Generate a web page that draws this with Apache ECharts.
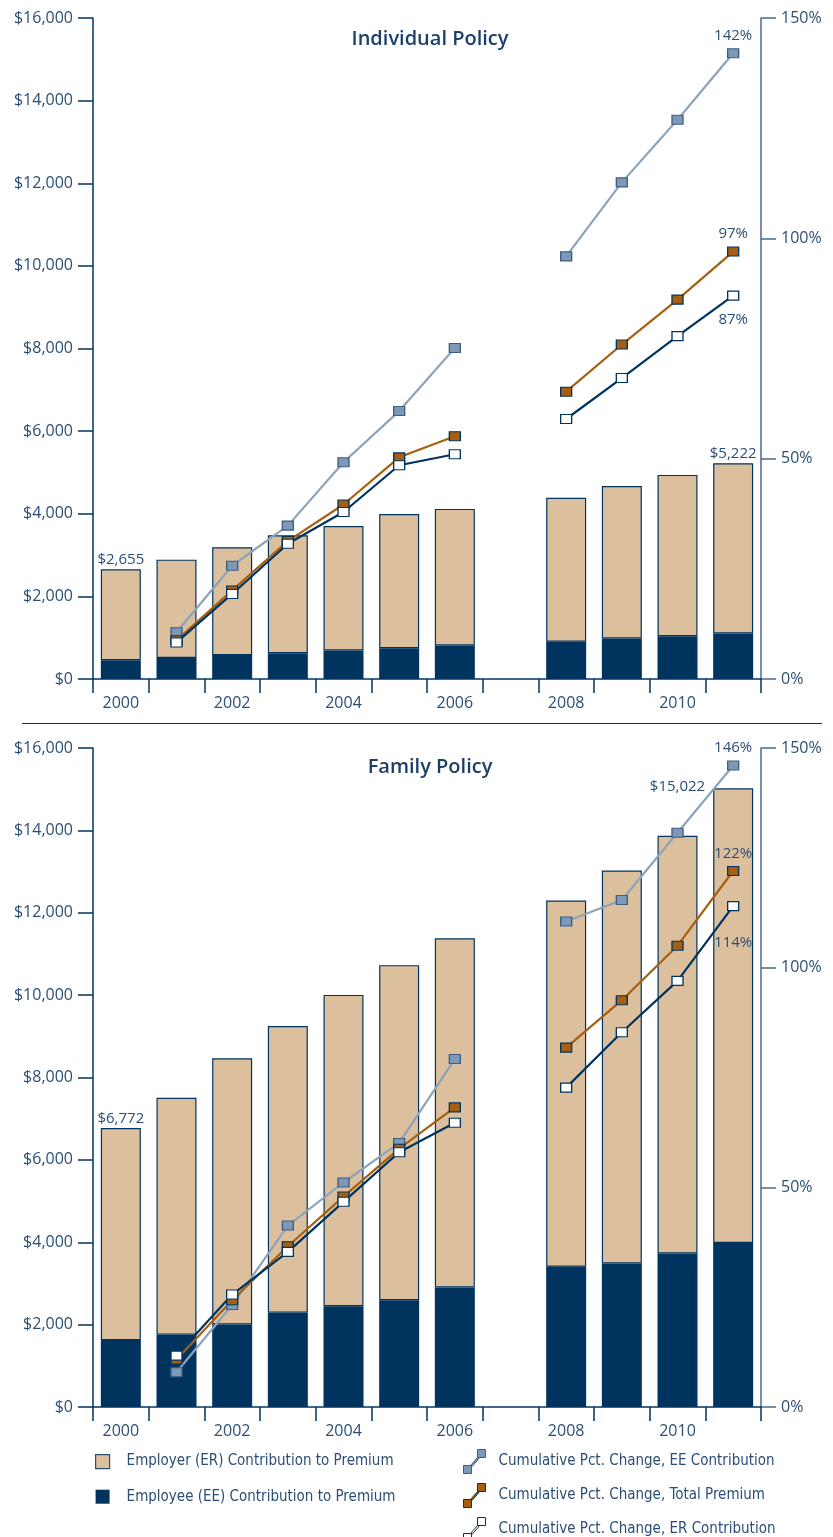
<!DOCTYPE html>
<html lang="en">
<head>
<meta charset="UTF-8">
<title>Individual and Family Policy Premiums</title>
<style>
  html, body { margin: 0; padding: 0; background: #fff; }
  #main { width: 833px; height: 1537px; }
</style>
</head>
<body>
<div id="main"></div>
<script src="https://cdn.jsdelivr.net/npm/echarts@6/dist/echarts.min.js"></script>
<script>
// years (2007 kept as an empty slot)
var years = ['2000','2001','2002','2003','2004','2005','2006','2007','2008','2009','2010','2011'];

// Individual policy, $ per year
var indTotal = [2655, 2889, 3189, 3481, 3705, 3991, 4118, null, 4386, 4669, 4940, 5222];
var indEE    = [455, 511, 578, 622, 689, 744, 812, null, 901, 979, 1034, 1101];
var indER    = [2200, 2378, 2611, 2859, 3016, 3247, 3306, null, 3485, 3690, 3906, 4121];
// Individual policy, cumulative % change
var indEEPct  = [null, 10.6, 25.7, 34.8, 49.2, 60.8, 75.1, null, 95.9, 112.7, 126.9, 142];
var indTotPct = [null, 8.8, 20.1, 31.3, 39.6, 50.3, 55.1, null, 65.2, 75.9, 86.1, 97];
var indERPct  = [null, 8.3, 19.3, 30.7, 37.9, 48.5, 51.0, null, 59.0, 68.3, 77.8, 87];

// Family policy, $ per year
var famTotal = [6772, 7509, 8469, 9249, 10006, 10728, 11381, null, 12298, 13027, 13871, 15022];
var famEE    = [1624, 1758, 2003, 2292, 2448, 2592, 2904, null, 3405, 3483, 3727, 3983];
var famER    = [5148, 5751, 6466, 6957, 7558, 8136, 8477, null, 8893, 9544, 10144, 11039];
// Family policy, cumulative % change
var famEEPct  = [null, 7.9, 23.2, 41.3, 51.1, 60.1, 79.2, null, 110.5, 115.4, 130.7, 146];
var famTotPct = [null, 10.8, 24.3, 36.6, 47.9, 58.8, 68.2, null, 81.8, 92.6, 105.0, 122];
var famERPct  = [null, 11.7, 25.6, 35.3, 46.7, 58.0, 64.7, null, 72.7, 85.3, 97.0, 114];

var NAVY = '#00345f';
var TAN = '#dcc09e';
var EEFILL = '#7d99b7';
var EELINE = '#8da3ba';
var BROWN = '#a65f10';
var TXT = '#2c4e76';
var NUMFONT = 'Open Sans';
var LEGFONT = '"DejaVu Sans Condensed", "Liberation Sans Narrow", Roboto, sans-serif';

var chart = echarts.init(document.getElementById('main'));

function fmtMoney(v) {
  return '$' + v.toLocaleString('en-US');
}

// ER bars, with total label on chosen years
function erData(er, total, labels) {
  return er.map(function (v, i) {
    if (labels[i] === undefined) return v;
    return {
      value: v,
      label: Object.assign({
        show: true,
        formatter: fmtMoney(total[i]),
        color: TXT, fontFamily: NUMFONT, fontSize: 15
      }, labels[i])
    };
  });
}

// line data with a label on the last point only
function pctData(arr, pos, dist) {
  return arr.map(function (v, i) {
    if (i !== arr.length - 1) return v;
    return {
      value: v,
      label: { show: true, position: pos, distance: dist, formatter: Math.round(v) + '%',
               color: TXT, fontFamily: NUMFONT, fontSize: 15 }
    };
  });
}

function xAxis(gi) {
  return {
    type: 'category', gridIndex: gi, data: years, boundaryGap: true,
    axisLine: { lineStyle: { color: NAVY, width: 1.5 } },
    axisTick: { show: true, interval: 0, length: 14, lineStyle: { color: NAVY, width: 1.5 } },
    axisLabel: { interval: 1, margin: 16, color: TXT, fontFamily: NUMFONT, fontSize: 16 }
  };
}
function yLeft(gi) {
  return {
    type: 'value', gridIndex: gi, position: 'left', min: 0, max: 16000, interval: 2000,
    splitLine: { show: false },
    axisLine: { show: true, lineStyle: { color: NAVY, width: 1.5 } },
    axisTick: { show: true, length: 15, lineStyle: { color: NAVY, width: 1.5 } },
    axisLabel: { margin: 20, color: TXT, fontFamily: NUMFONT, fontSize: 16,
                 formatter: function (v) { return fmtMoney(v); } }
  };
}
function yRight(gi) {
  return {
    type: 'value', gridIndex: gi, position: 'right', min: 0, max: 150, interval: 50,
    splitLine: { show: false },
    axisLine: { show: true, lineStyle: { color: '#4a6a8e', width: 1.5 } },
    axisTick: { show: true, length: 15, lineStyle: { color: '#4a6a8e', width: 1.5 } },
    axisLabel: { margin: 20, color: TXT, fontFamily: NUMFONT, fontSize: 16, formatter: '{value}%' }
  };
}

function barSeries(gi, ee, er, total, labels) {
  return [
    { name: 'Employee (EE) Contribution to Premium', type: 'bar', stack: 's' + gi,
      xAxisIndex: gi, yAxisIndex: gi * 2, barWidth: 40, data: ee,
      itemStyle: { color: NAVY } },
    { name: 'Employer (ER) Contribution to Premium', type: 'bar', stack: 's' + gi,
      xAxisIndex: gi, yAxisIndex: gi * 2, barWidth: 40, data: erData(er, total, labels),
      itemStyle: { color: TAN, borderColor: NAVY, borderWidth: 1.2 } }
  ];
}

function lineSeries(gi, eeP, totP, erP, erDist) {
  var base = { type: 'line', xAxisIndex: gi, yAxisIndex: gi * 2 + 1, symbol: 'rect',
               symbolSize: [11, 9], connectNulls: false, z: 5 };
  return [
    Object.assign({}, base, { name: 'Cumulative Pct. Change, EE Contribution', data: pctData(eeP, 'top', 5),
      lineStyle: { color: EELINE, width: 2.2 },
      itemStyle: { color: EEFILL, borderColor: '#3d5d82', borderWidth: 1.2 } }),
    Object.assign({}, base, { name: 'Cumulative Pct. Change, Total Premium', data: pctData(totP, 'top', 5),
      lineStyle: { color: BROWN, width: 2.2 },
      itemStyle: { color: BROWN, borderColor: NAVY, borderWidth: 1.2 } }),
    Object.assign({}, base, { name: 'Cumulative Pct. Change, ER Contribution', data: pctData(erP, 'bottom', erDist),
      lineStyle: { color: NAVY, width: 2.2 },
      itemStyle: { color: '#ffffff', borderColor: NAVY, borderWidth: 1.2 } })
  ];
}

var lineIcon = 'path://M0,17H8V25H0Z M14,1H22V9H14Z M7,17L14,9L15.5,10L8.5,18Z';

var option = {
  animation: false,
  backgroundColor: '#ffffff',
  title: [
    { text: 'Individual Policy', left: 425, top: 24, textAlign: 'center',
      textStyle: { color: '#1c3f69', fontFamily: NUMFONT, fontWeight: 600, fontSize: 20 } },
    { text: 'Family Policy', left: 425, top: 752, textAlign: 'center',
      textStyle: { color: '#1c3f69', fontFamily: NUMFONT, fontWeight: 600, fontSize: 20 } }
  ],
  grid: [
    { left: 93, right: 72, top: 18, bottom: 858 },
    { left: 93, right: 72, top: 748, bottom: 130 }
  ],
  xAxis: [xAxis(0), xAxis(1)],
  yAxis: [yLeft(0), yRight(0), yLeft(1), yRight(1)],
  legend: [
    { orient: 'vertical', left: 95, top: 1454, height: 80, padding: 0, itemWidth: 14, itemHeight: 14, itemGap: 20,
      textStyle: { color: TXT, fontFamily: LEGFONT, fontSize: 15, padding: [0, 0, 0, 12] },
      data: [
        { name: 'Employer (ER) Contribution to Premium', icon: 'rect',
          itemStyle: { color: TAN, borderColor: '#2c4e76', borderWidth: 1.2 } },
        { name: 'Employee (EE) Contribution to Premium', icon: 'rect',
          itemStyle: { color: NAVY } }
      ] },
    { orient: 'vertical', left: 463, top: 1449, height: 120, padding: 0, itemWidth: 22, itemHeight: 24, itemGap: 9,
      textStyle: { color: TXT, fontFamily: LEGFONT, fontSize: 15, padding: [0, 0, 0, 8] },
      data: [
        { name: 'Cumulative Pct. Change, EE Contribution', icon: lineIcon,
          itemStyle: { color: EEFILL, borderColor: '#3d5d82', borderWidth: 1 } },
        { name: 'Cumulative Pct. Change, Total Premium', icon: lineIcon,
          itemStyle: { color: BROWN, borderColor: NAVY, borderWidth: 1 } },
        { name: 'Cumulative Pct. Change, ER Contribution', icon: lineIcon,
          itemStyle: { color: '#ffffff', borderColor: NAVY, borderWidth: 1 } }
      ] }
  ],
  graphic: [
    { type: 'line', shape: { x1: 22, y1: 723.5, x2: 822, y2: 723.5 },
      style: { stroke: NAVY, lineWidth: 1.2 } }
  ],
  series: [].concat(
    barSeries(0, indEE, indER, indTotal, { 0: { position: 'top', distance: 2 }, 11: { position: 'top', distance: 2 } }),
    lineSeries(0, indEEPct, indTotPct, indERPct, 12),
    barSeries(1, famEE, famER, famTotal, { 0: { position: 'top', distance: 2 },
      11: { position: [-8, -2], align: 'right', verticalAlign: 'middle' } }),
    lineSeries(1, famEEPct, famTotPct, famERPct, 24)
  )
};

chart.setOption(option);
</script>
</body>
</html>
